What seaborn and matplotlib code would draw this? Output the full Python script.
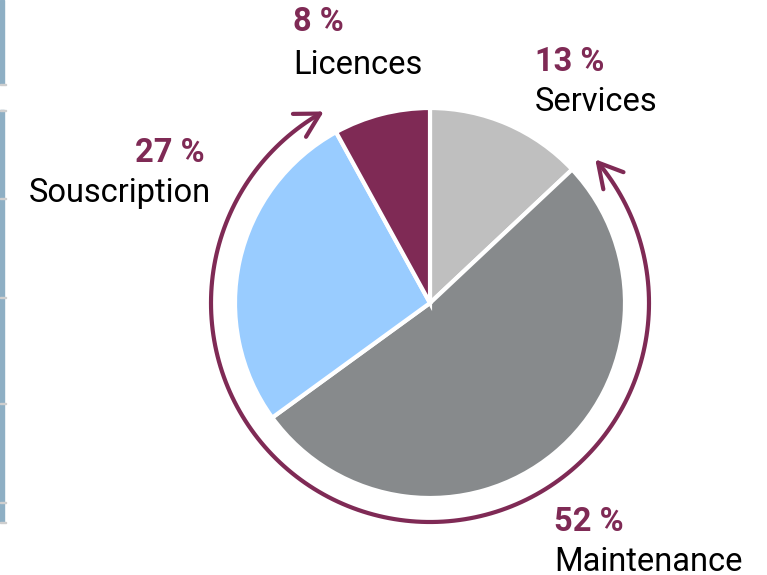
import numpy as np
import matplotlib
matplotlib.use("Agg")
import matplotlib.pyplot as plt
import seaborn as sns
from matplotlib.patches import FancyArrowPatch, Rectangle
from matplotlib.path import Path

categories = ["Services", "Maintenance", "Souscription", "Licences"]
values = [13, 52, 27, 8]
pct_labels = ["13 %", "52 %", "27 %", "8 %"]
colors = ["#bfbfbf", "#878a8c", "#99ccff", "#7f2a55"]

sns.set_theme(style="white")
plt.rcParams['font.family'] = ['Roboto', 'DejaVu Sans']

W, H = 767, 575
fig = plt.figure(figsize=(W / 100, H / 100), dpi=100)
ax = fig.add_axes([0, 0, 1, 1])

cx, cy, r = 430, H - 303, 195
ax.pie(values, colors=colors, startangle=90, counterclock=False,
       center=(cx, cy), radius=r, frame=True,
       wedgeprops=dict(edgecolor='white', linewidth=3))
ax.set_xlim(0, W)
ax.set_ylim(0, H)
ax.set_aspect('equal')
ax.axis('off')

# double-headed arc arrow
ra = 219
ang = np.radians(np.linspace(119, 401, 200))
pts = np.column_stack([cx + ra * np.cos(ang), cy + ra * np.sin(ang)])
path = Path(pts)
arr = FancyArrowPatch(path=path, arrowstyle='<->,head_length=9,head_width=5',
                      color='#7f2a55', linewidth=3.0, mutation_scale=1.9,
                      capstyle='round', joinstyle='round')
ax.add_patch(arr)

maroon = '#7f2a55'
fs = 23.5
spec = {
    "Licences": (293, 22, 65, 'left'),
    "Services": (535, 62, 102, 'left'),
    "Souscription": (211, 153, 193, 'right'),
    "Maintenance": (554, 522, 562, 'left'),
}
for cat, pct in zip(categories, pct_labels):
    x, yp, yl, ha = spec[cat]
    xp = x if ha == 'left' else x - 6
    ax.text(xp, H - yp, pct, ha=ha, va='center', fontsize=fs,
            fontweight='bold', color=maroon)
    ax.text(x, H - yl, cat, ha=ha, va='center', fontsize=fs, color='black')

# left edge decoration
bar_c = '#8eafc4'
for y0, y1 in [(0, 84), (110, 522)]:
    fig.patches.append(Rectangle((0, 1 - y1 / H), 4 / W, (y1 - y0) / H,
                                 transform=fig.transFigure, color=bar_c))
for yt in [84, 110, 198, 297, 403, 502, 522]:
    fig.patches.append(Rectangle((0, 1 - (yt + 1) / H), 6 / W, 1.5 / H,
                                 transform=fig.transFigure, color='#cfcfcf'))

fig.savefig('out.png', dpi=100)
